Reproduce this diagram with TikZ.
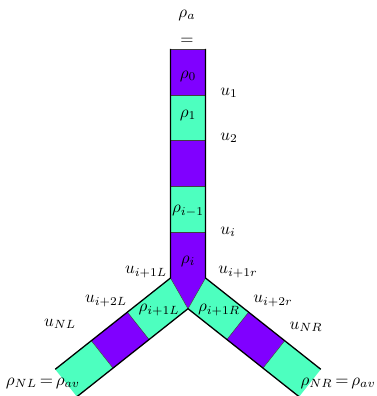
\documentclass[tikz,border=0pt]{standalone}
\usepackage{amsmath}
\definecolor{vio}{RGB}{128,0,255}
\definecolor{aqua}{RGB}{77,255,191}
\begin{document}
\begin{tikzpicture}[x=1pt,y=-1pt,
  lbl/.style={inner sep=0pt,scale=1.7},
  seam/.style={draw=black!75,line width=0.5pt},
  edge/.style={draw=black,line width=1.3pt,line join=miter}]
\useasboundingbox (0,0) rectangle (377,396);
\clip (0,0) rectangle (377,396);
% key points
\coordinate (TL) at (170.5,49);
\coordinate (TR) at (205.5,49);
\coordinate (OL) at (170.5,278);
\coordinate (OR) at (205.5,278);
\coordinate (tip) at (188,308.7);
% left arm
\coordinate (L1o) at (127.4,312.2); \coordinate (L1i) at (149.1,339.6);
\coordinate (L2o) at (91.3,340.7);  \coordinate (L2i) at (113.0,368.1);
\coordinate (L3o) at (55.2,369.3);  \coordinate (L3i) at (76.9,396.7);
% right arm
\coordinate (R1o) at (248.6,312.2); \coordinate (R1i) at (226.9,339.6);
\coordinate (R2o) at (284.7,340.7); \coordinate (R2i) at (263.0,368.1);
\coordinate (R3o) at (320.8,369.3); \coordinate (R3i) at (299.1,396.7);
% column fills
\fill[vio]  (170.5,49) rectangle (205.5,95);
\fill[aqua] (170.5,95) rectangle (205.5,140);
\fill[vio]  (170.5,140) rectangle (205.5,186);
\fill[aqua] (170.5,186) rectangle (205.5,232);
\fill[vio]  (170.5,232) -- (205.5,232) -- (OR) -- (tip) -- (OL) -- cycle;
% left arm fills
\fill[aqua] (OL) -- (tip) -- (L1i) -- (L1o) -- cycle;
\fill[vio]  (L1o) -- (L1i) -- (L2i) -- (L2o) -- cycle;
\fill[aqua] (L2o) -- (L2i) -- (L3i) -- (L3o) -- cycle;
% right arm fills
\fill[aqua] (OR) -- (tip) -- (R1i) -- (R1o) -- cycle;
\fill[vio]  (R1o) -- (R1i) -- (R2i) -- (R2o) -- cycle;
\fill[aqua] (R2o) -- (R2i) -- (R3i) -- (R3o) -- cycle;
% seams
\foreach \yy in {95,140,186,232} \draw[seam] (170.5,\yy) -- (205.5,\yy);
\draw[seam] (OL) -- (tip) -- (OR);
\draw[seam] (L1o) -- (L1i); \draw[seam] (L2o) -- (L2i);
\draw[seam] (R1o) -- (R1i); \draw[seam] (R2o) -- (R2i);
\draw[seam] (TL) -- (TR);
% outlines
\draw[edge] (TL) -- (OL) -- (L3o);
\draw[edge] (TR) -- (OR) -- (R3o);
\draw[edge] (L3i) -- (tip) -- (R3i);
% labels
\node[lbl] (ra) at (187,15) {$\rho_a$};
\node[lbl] (eq) at (187,41) {$=$};
\node[lbl] (r0) at (188,76) {$\rho_0$};
\node[lbl] (r1) at (188,115) {$\rho_1$};
\node[lbl] (u1) at (229,93) {$u_1$};
\node[lbl] (u2) at (229,138) {$u_2$};
\node[lbl] (rim1) at (188,211) {$\rho_{i-1}$};
\node[lbl] (ui) at (228,232) {$u_i$};
\node[lbl] (ri) at (188,261) {$\rho_i$};
\node[lbl] (ui1L) at (146,272) {$u_{i+1L}$};
\node[lbl] (ui1r) at (238,272) {$u_{i+1r}$};
\node[lbl] (ui2L) at (106,301) {$u_{i+2L}$};
\node[lbl] (ui2r) at (273,301) {$u_{i+2r}$};
\node[lbl] (ri1L) at (159,310) {$\rho_{i+1L}$};
\node[lbl] (ri1R) at (219,310) {$\rho_{i+1R}$};
\node[lbl] (uNL) at (60,324) {$u_{NL}$};
\node[lbl] (uNR) at (306,327) {$u_{NR}$};
\node[lbl] (rNL) at (43,383) {$\rho_{NL}\,{=}\,\rho_{av}$};
\node[lbl,anchor=east] (rNR) at (376,383) {$\rho_{NR}\,{=}\,\rho_{av}$};
\end{tikzpicture}
\end{document}
